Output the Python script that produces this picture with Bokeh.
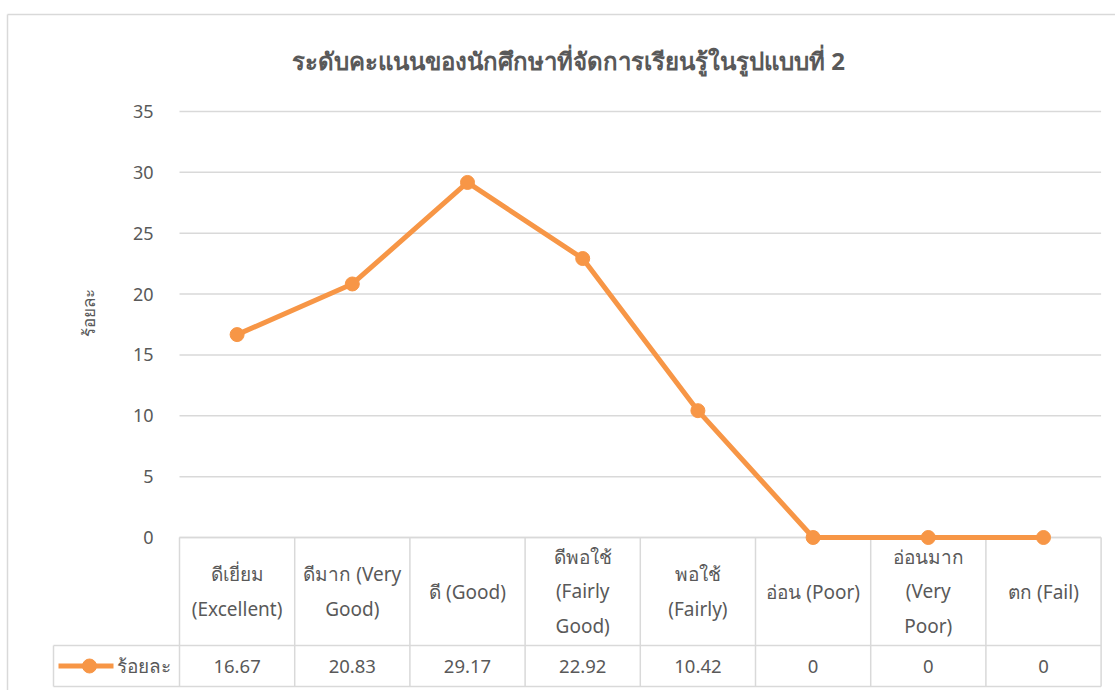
from bokeh.plotting import figure
from bokeh.models import Range1d, LinearAxis, FixedTicker
from bokeh.core.properties import value
from bokeh.embed import file_html
from bokeh.resources import INLINE

# ---------------- data ----------------
title_text = "ระดับคะแนนของนักศึกษาที่จัดการเรียนรู้ในรูปแบบที่ 2"
series_name = "ร้อยละ"
categories = [
    "ดีเยี่ยม\n(Excellent)",
    "ดีมาก (Very\nGood)",
    "ดี (Good)",
    "ดีพอใช้\n(Fairly\nGood)",
    "พอใช้\n(Fairly)",
    "อ่อน (Poor)",
    "อ่อนมาก\n(Very\nPoor)",
    "ตก (Fail)",
]
values = [16.67, 20.83, 29.17, 22.92, 10.42, 0, 0, 0]
value_labels = ["16.67", "20.83", "29.17", "22.92", "10.42", "0", "0", "0"]
y_ticks = [0, 5, 10, 15, 20, 25, 30, 35]

# ---------------- layout (page pixels) ----------------
W, H = 1115, 690
OFF = 0
X0, DX = 236.6, 115.2          # centre of first category, category width
Y0, Y35 = 537.0, 111.0         # pixel of value 0 and value 35
K = (Y0 - Y35) / 35.0
HEADER_BOTTOM = 645.0
ROW_BOTTOM = 686.0
LEG_LEFT = 53.0

FONT = value("Noto Sans")
TXT = "#595959"
GRID = "#D9D9D9"
ORANGE = "#F79646"

x_range = Range1d((OFF - X0) / DX, (OFF + W - X0) / DX)
y_range = Range1d((Y0 - (OFF + H)) / K, (Y0 - OFF) / K)

p = figure(width=W, height=H, x_range=x_range, y_range=y_range,
           min_border=0, toolbar_location=None, output_backend="svg",
           x_axis_location=None, y_axis_location=None, tools="")
p.outline_line_color = None
p.xgrid.visible = False
p.ygrid.visible = False
p.background_fill_color = "white"
p.border_fill_color = "white"
p.extra_x_ranges = {"px": Range1d(OFF, OFF + W)}
p.extra_y_ranges = {"py": Range1d(OFF + H, OFF)}

n = len(categories)
left_edge = -0.5
right_edge = n - 0.5

# gridlines
p.segment(x0=[left_edge] * len(y_ticks), x1=[right_edge] * len(y_ticks),
          y0=y_ticks, y1=y_ticks, line_color=GRID, line_width=1.5)

# y axis
yaxis = LinearAxis(ticker=FixedTicker(ticks=y_ticks), fixed_location=left_edge,
                   axis_label=series_name, bounds=(0, 37))
yaxis.axis_line_color = None
yaxis.major_tick_line_color = None
yaxis.minor_tick_line_color = None
yaxis.major_label_text_font = "Noto Sans"
yaxis.major_label_text_font_size = "18px"
yaxis.major_label_text_color = TXT
yaxis.major_label_standoff = 20
yaxis.axis_label_text_font = "Noto Sans"
yaxis.axis_label_text_font_size = "17px"
yaxis.axis_label_text_font_style = "normal"
yaxis.axis_label_text_color = TXT
yaxis.axis_label_standoff = 30
p.add_layout(yaxis, "left")

# data table: vertical borders at category boundaries
bx = [X0 + (left_edge + k) * DX for k in range(n + 1)]
p.segment(x0=bx, x1=bx, y0=[Y0] * len(bx), y1=[ROW_BOTTOM] * len(bx),
          x_range_name="px", y_range_name="py", line_color=GRID, line_width=1.5)
# horizontal borders
p.segment(x0=[X0 + left_edge * DX, LEG_LEFT, LEG_LEFT],
          x1=[X0 + right_edge * DX] * 3,
          y0=[Y0, HEADER_BOTTOM, ROW_BOTTOM], y1=[Y0, HEADER_BOTTOM, ROW_BOTTOM],
          x_range_name="px", y_range_name="py", line_color=GRID, line_width=1.5)
p.segment(x0=[LEG_LEFT], x1=[LEG_LEFT], y0=[HEADER_BOTTOM], y1=[ROW_BOTTOM],
          x_range_name="px", y_range_name="py", line_color=GRID, line_width=1.5)

# chart outer border
p.segment(x0=[7, 7], x1=[OFF + W, 7],
          y0=[14, 14], y1=[14, OFF + H],
          x_range_name="px", y_range_name="py", line_color=GRID, line_width=1.5)

# series line
xs = list(range(n))
p.line(xs, values, line_color=ORANGE, line_width=5)
p.scatter(xs, values, size=14, fill_color=ORANGE, line_color=ORANGE)

# header labels
hy = (Y0 + HEADER_BOTTOM) / 2
p.text(x=[X0 + i * DX for i in xs], y=[hy] * n, text=categories,
       x_range_name="px", y_range_name="py",
       text_font=FONT, text_font_size="19px", text_color=TXT,
       text_align="center", text_baseline="middle", text_line_height=1.33)

# value row
vy = (HEADER_BOTTOM + ROW_BOTTOM) / 2
p.text(x=[X0 + i * DX for i in xs], y=[vy] * n, text=value_labels,
       x_range_name="px", y_range_name="py",
       text_font=FONT, text_font_size="18.5px", text_color=TXT,
       text_align="center", text_baseline="middle")

# legend key in the value row
p.line(x=[58, 113], y=[vy, vy], x_range_name="px", y_range_name="py",
       line_color=ORANGE, line_width=5)
p.scatter(x=[89], y=[vy], x_range_name="px", y_range_name="py",
          size=14, fill_color=ORANGE, line_color=ORANGE)
p.text(x=[116], y=[vy], text=[series_name], x_range_name="px", y_range_name="py",
       text_font=FONT, text_font_size="19px", text_color=TXT,
       text_align="left", text_baseline="middle")

# title
p.text(x=[568], y=[60], text=[title_text], x_range_name="px", y_range_name="py",
       text_font=FONT, text_font_size="24px", text_font_style="bold",
       text_color=TXT, text_align="center", text_baseline="middle")

open("out.html", "w").write(file_html(p, INLINE))
